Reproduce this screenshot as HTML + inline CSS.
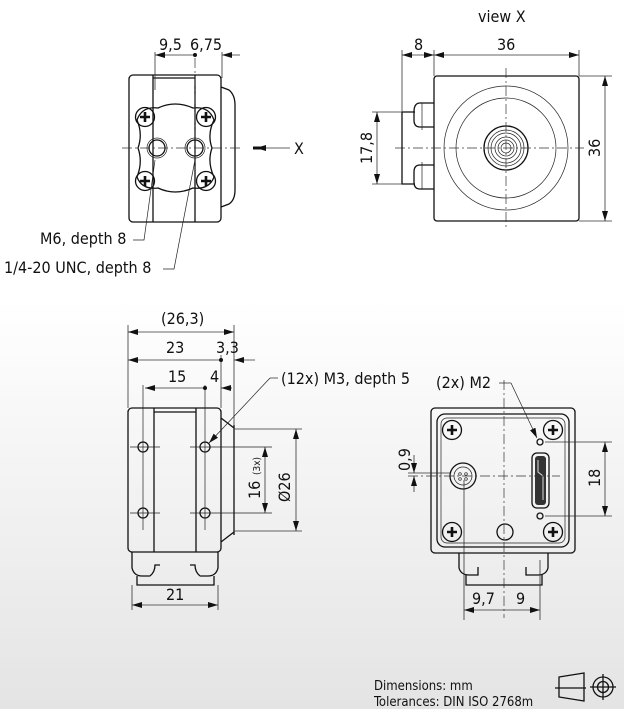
<!DOCTYPE html>
<html><head><meta charset="utf-8"><style>
html,body{margin:0;padding:0;}
body{width:624px;height:709px;overflow:hidden;background:linear-gradient(#ffffff 0px,#ffffff 300px,#e4e4e4 709px);}
svg{position:absolute;left:0;top:0}
text{font-family:"DejaVu Sans Condensed","Liberation Sans Narrow","Liberation Sans",sans-serif;font-size:16px;fill:#111}
.o{fill:none;stroke:#111;stroke-width:1.3}
.t{fill:none;stroke:#222;stroke-width:0.7}
.c{fill:none;stroke:#333;stroke-width:0.7;stroke-dasharray:10 3 2 3}
.d{fill:none;stroke:#333;stroke-width:0.8}
</style></head><body>
<svg width="624" height="709" viewBox="0 0 624 709">
<defs>
<marker id="a" viewBox="0 0 10 6" refX="10" refY="3" markerWidth="10" markerHeight="6" orient="auto-start-reverse" markerUnits="userSpaceOnUse"><path d="M0,0 L10,3 L0,6z" fill="#111"/></marker>
<g id="scr"><circle r="9.5" class="o" fill="#fff"/><path d="M-5,0h10M0,-5v10" stroke="#111" stroke-width="2.6"/></g>
</defs>

<!-- ===== top-left view ===== -->
<rect x="129" y="75" width="92" height="147" rx="4" class="o"/>
<path d="M153,75V222M195,75V222M153,78H195" class="o"/>
<path d="M221,87 L229,90 Q235,95 235,105 V190 Q235,200 229,204 L221,207" class="o"/>
<path d="M137,120 Q142,106 158,108 Q175,100 193,108 Q209,106 214,120 Q207,134 212,148 Q207,162 214,177 Q209,190 193,188 Q175,196 158,188 Q142,190 137,177 Q143,162 138,148 Q143,134 137,120Z" class="o" fill="#fff"/>
<use href="#scr" x="145" y="117"/><use href="#scr" x="206" y="117"/>
<use href="#scr" x="145" y="181"/><use href="#scr" x="206" y="181"/>
<circle cx="157" cy="148" r="8" class="o"/><circle cx="157" cy="148" r="10" class="t"/>
<circle cx="195" cy="148" r="8" class="o"/><circle cx="195" cy="148" r="10" class="t"/>
<path d="M122,148H240M195,58V170" class="c"/>
<path d="M290,148H256" class="d" marker-end="url(#a)" stroke-width="1.2"/>
<path d="M253,148h12" stroke="#111" stroke-width="3"/>
<text x="294" y="154">X</text>
<path d="M155,52V90M222,52V78" class="d"/>
<path d="M155,55H195" class="d" marker-start="url(#a)"/>
<path d="M240,55H222" class="d" marker-end="url(#a)"/>
<circle cx="195" cy="55" r="2" fill="#111"/>
<text x="159" y="50">9,5</text><text x="190" y="50">6,75</text>
<path d="M155,160 L144,240 H133" class="t"/>
<path d="M195,160 L174,269 H163" class="t"/>
<text x="40" y="244">M6, depth 8</text>
<text x="4" y="273">1/4-20 UNC, depth 8</text>

<!-- ===== top-right view X ===== -->
<text x="478" y="22">view X</text>
<rect x="434" y="76" width="145" height="145" rx="3" class="o"/>
<circle cx="506" cy="148" r="62" class="t"/>
<circle cx="506" cy="148" r="50" class="t"/>
<circle cx="506" cy="148" r="22" class="o"/>
<circle cx="506" cy="148" r="18" class="t"/>
<circle cx="506" cy="148" r="15" class="t"/>
<circle cx="506" cy="148" r="11" class="t"/>
<circle cx="506" cy="148" r="8" class="t"/>
<circle cx="506" cy="148" r="5" class="t"/>
<path d="M506,68V228M395,148H584" class="c"/>
<path d="M402,112V184H415M402,112H415M434,103H420Q414,103 414,112V120Q414,127 420,127H434M434,165H420Q414,165 414,172V182Q414,189 420,189H434" class="o"/>
<path d="M422,103V130M422,162V189" class="t"/>
<path d="M402,50V112M434,50V76M579,50V76" class="d"/>
<path d="M402,55H434" class="d" marker-start="url(#a)" marker-end="url(#a)"/>
<path d="M434,55H579" class="d" marker-start="url(#a)" marker-end="url(#a)"/>
<text x="414" y="50">8</text><text x="497" y="50">36</text>
<path d="M579,76H612M579,221H612" class="d"/>
<path d="M605,76V221" class="d" marker-start="url(#a)" marker-end="url(#a)"/>
<text transform="translate(600,157) rotate(-90)">36</text>
<path d="M372,112H402M372,184H402" class="d"/>
<path d="M377,112V184" class="d" marker-start="url(#a)" marker-end="url(#a)"/>
<text transform="translate(372,164) rotate(-90)">17,8</text>

<!-- ===== bottom-left view ===== -->
<rect x="128" y="408" width="93" height="144" rx="4" class="o"/>
<path d="M154,408V552M196,408V552M154,412H196" class="o"/>
<path d="M221,418 L234,428 M221,542 L234,532 M234,425V535" class="o"/>
<path d="M132,552V568Q134,576 142,576H150M218,552V568Q216,576 208,576H200M150,576Q155,572 155,565H160M200,576Q195,572 195,565H190M137,576V585H214V576" class="o"/>
<circle cx="143" cy="447" r="5" class="o"/><circle cx="205" cy="447" r="5" class="o"/>
<circle cx="143" cy="513" r="5" class="o"/><circle cx="205" cy="513" r="5" class="o"/>
<path d="M130,447H160M190,447H272M130,513H160M190,513H272M143,385V530M205,385V530" class="t" stroke="#555"/>
<path d="M234,429H302M234,531H302" class="d"/>
<path d="M296,429V531" class="d" marker-start="url(#a)" marker-end="url(#a)"/>
<path d="M265,447V513" class="d" marker-start="url(#a)" marker-end="url(#a)"/>
<text transform="translate(290,502) rotate(-90)">Ø26</text>
<text transform="translate(260,499) rotate(-90)">16</text>
<text transform="translate(260,475) rotate(-90)" style="font-size:10px">(3x)</text>
<path d="M128,325V408M234,325V425M221,355V408" class="d"/>
<path d="M128,332H234" class="d" marker-start="url(#a)" marker-end="url(#a)"/>
<text x="161" y="324">(26,3)</text>
<path d="M128,360H221" class="d" marker-start="url(#a)"/>
<path d="M255,360H234" class="d" marker-end="url(#a)"/>
<circle cx="221" cy="360" r="2" fill="#111"/>
<text x="166" y="353">23</text><text x="216" y="353">3,3</text>
<path d="M145,388H205" class="d" marker-start="url(#a)"/>
<path d="M232,388H221" class="d" marker-end="url(#a)"/>
<circle cx="205" cy="388" r="2" fill="#111"/>
<text x="168" y="382">15</text><text x="210" y="382">4</text>
<path d="M270,378 L209,443" class="t" marker-end="url(#a)"/>
<path d="M270,378H278" class="t"/>
<text x="281" y="384">(12x) M3, depth 5</text>
<path d="M132,585V610M218,585V610" class="d"/>
<path d="M132,605H218" class="d" marker-start="url(#a)" marker-end="url(#a)"/>
<text x="166" y="600">21</text>

<!-- ===== bottom-right view ===== -->
<rect x="431" y="408" width="144" height="145" rx="4" class="o"/>
<rect x="437" y="414" width="132" height="133" rx="8" class="o"/>
<rect x="441" y="418" width="124" height="125" rx="6" class="t"/>
<use href="#scr" x="452" y="430"/><use href="#scr" x="553" y="430"/>
<use href="#scr" x="452" y="532"/><use href="#scr" x="553" y="532"/>
<circle cx="463" cy="476" r="13" class="o"/><circle cx="463" cy="476" r="9" class="t"/>
<circle cx="460" cy="474" r="1.3" class="t"/><circle cx="466" cy="474" r="1.3" class="t"/><circle cx="460" cy="479" r="1.3" class="t"/><circle cx="466" cy="479" r="1.3" class="t"/>
<rect x="532" y="453" width="17" height="55" rx="5" class="o"/>
<rect x="535" y="456" width="11" height="49" rx="3" fill="#333"/>
<path d="M538,460V472L543,476V500" stroke="#ddd" stroke-width="1" fill="none"/>
<circle cx="540" cy="442" r="3" class="o"/><circle cx="540" cy="516" r="3" class="o"/>
<circle cx="505" cy="532" r="8" class="o"/>
<path d="M504,380V618M408,476H560" class="c"/>
<path d="M459,553V568Q461,575 469,575H478V567M548,553V568Q546,575 538,575H526V567M466,575V585H542V575" class="o"/>
<path d="M464,480V620M540,560V620" class="d"/>
<path d="M464,610H504" class="d" marker-start="url(#a)"/>
<path d="M504,610H540" class="d" marker-end="url(#a)"/>
<text x="472" y="604">9,7</text><text x="516" y="604">9</text>
<path d="M545,442H612M545,516H612" class="d"/>
<path d="M605,442V516" class="d" marker-start="url(#a)" marker-end="url(#a)"/>
<text transform="translate(600,487) rotate(-90)">18</text>
<path d="M408,473H450" class="d"/>
<path d="M414,455V473" class="d" marker-end="url(#a)"/>
<path d="M414,492V476" class="d" marker-end="url(#a)"/>
<text transform="translate(410,471) rotate(-90)">0,9</text>
<path d="M511,383 L537,438" class="t" marker-end="url(#a)"/>
<path d="M499,383H511" class="t"/>
<text x="436" y="388">(2x) M2</text>

<!-- footer -->
<text x="374" y="690" style="font-size:13px">Dimensions: mm</text>
<text x="374" y="706" style="font-size:13px">Tolerances: DIN ISO 2768m</text>
<path d="M559,677L584,673V701L559,697Z M555,688H586" class="o" stroke-width="1.1"/>
<circle cx="603" cy="687" r="10" class="o" stroke-width="1.1"/><circle cx="603" cy="687" r="5.5" class="o" stroke-width="1.1"/>
<path d="M590,687H616M603,674V700" class="o" stroke-width="1"/>
</svg>
</body></html>
